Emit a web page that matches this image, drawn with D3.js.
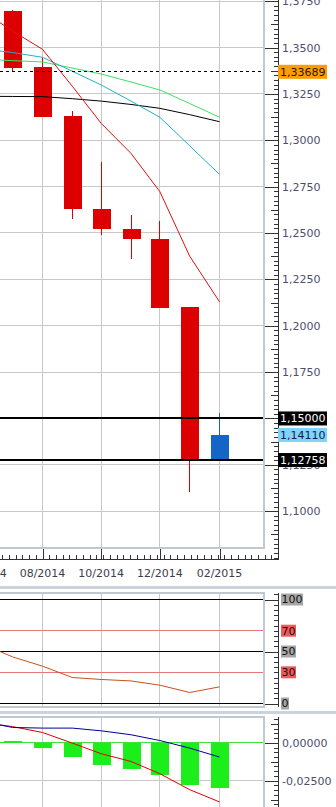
<!DOCTYPE html>
<html>
<head>
<meta charset="utf-8">
<title>EUR/USD monthly</title>
<script src="https://cdn.jsdelivr.net/npm/d3@7"></script>
<style>
  html, body { margin: 0; padding: 0; background: #fff; overflow: hidden; }
  svg { display: block; font-family: "DejaVu Sans", Verdana, sans-serif; font-size: 11px; }
</style>
</head>
<body>
<svg id="chart" width="336" height="807"></svg>
<script>
// monthly candles 07/2014 .. 02/2015
const candleMonths = ['2014-07', '2014-08', '2014-09', '2014-10', '2014-11', '2014-12', '2015-01', '2015-02'];
const opens  = [1.3697, 1.3393, 1.3131, 1.2627, 1.2519, 1.2465, 1.2099, 1.1284];
const highs  = [1.3700, 1.3444, 1.3158, 1.2884, 1.2597, 1.2567, 1.2099, 1.1532];
const lows   = [1.3372, 1.3127, 1.2577, 1.2490, 1.2361, 1.2097, 1.1101, 1.1276];
const closes = [1.3391, 1.3127, 1.2627, 1.2519, 1.2465, 1.2097, 1.1284, 1.1411];

// indicator lines start one month earlier, off the left edge
const lineMonths = ['2014-06', '2014-07', '2014-08', '2014-09', '2014-10', '2014-11', '2014-12', '2015-01', '2015-02'];
const maRed   = [1.3690, 1.3589, 1.3490, 1.3291, 1.3091, 1.2929, 1.2723, 1.2375, 1.2129];
const maCyan  = [1.3491, 1.3473, 1.3447, 1.3372, 1.3298, 1.3211, 1.3124, 1.2970, 1.2816];
const maGreen = [1.3437, 1.3429, 1.3422, 1.3389, 1.3357, 1.3314, 1.3271, 1.3198, 1.3124];
const maBlack = [1.3237, 1.3236, 1.3235, 1.3224, 1.3211, 1.3193, 1.3172, 1.3138, 1.3100];
const rsiValues = [56.5, 44.8, 35.9, 25.0, 23.1, 21.7, 17.6, 10.6, 16.0];
const macdLine   = [0.0132, 0.0107, 0.0068, -0.0002, -0.0072, -0.0123, -0.0204, -0.0309, -0.0390];
const signalLine = [0.0139, 0.0101, 0.0097, 0.0097, 0.0079, 0.0053, 0.0015, -0.0035, -0.0094];
const macdHist = [0.0012, -0.0032, -0.0092, -0.0144, -0.0171, -0.0210, -0.0276, -0.0296]; // per candle month

const xTickMonths = ['2014-06', '2014-08', '2014-10', '2014-12', '2015-02'];
const priceTicks = [1.1000, 1.1250, 1.1500, 1.1750, 1.2000, 1.2250, 1.2500, 1.2750, 1.3000, 1.3250, 1.3500, 1.3750];
const solidLevels = [1.15000, 1.12758];
const dashedLevel = 1.33689;
const priceTags = [1.33689, 1.15000, 1.14110, 1.12758];
const rsiLevels = [100, 70, 50, 30, 0];
const macdTicks = [0, -0.025];

const tagStyle = [
  {bg: '#ff9c00', fg: '#2a1a00'},
  {bg: '#000000', fg: '#ffffff'},
  {bg: '#80d4fb', fg: '#10204a'},
  {bg: '#000000', fg: '#ffffff'}
];

const svg = d3.select('#chart');
const parseMonth = d3.timeParse('%Y-%m');
const loc = d3.formatLocale({decimal: ',', thousands: '.', grouping: [3], currency: ['', ''], minus: '-'});
const fmt4 = loc.format('.4f');
const fmt5 = loc.format('.5f');

const frameRight = 264, axisX = 278.5;
const mainBottom = 548, xAxisY = 559.5;
const rsiTop = 593, rsiBottom = 707;
const macdTop = 717, macdBottom = 807;
const gridColor = '#c8c8c8', frameColor = '#c2c8d0', tickColor = '#333';

const x = d3.scaleTime()
  .domain([parseMonth('2014-08'), parseMonth('2015-02')])
  .range([42.5, 219.5]);
const yMain = d3.scaleLinear().domain([1.10, 1.35]).range([511.2, 47.5]);
const yRsi = d3.scaleLinear().domain([0, 100]).range([703.5, 599.5]);
const yMacd = d3.scaleLinear().domain([-0.025, 0]).range([780.7, 742.8]);

const snap = v => Math.floor(v) + 0.5;
const lineDates = lineMonths.map(parseMonth);
const candleDates = candleMonths.map(parseMonth);
const gridDates = xTickMonths.map(parseMonth);

const defs = svg.append('defs');
function clip(id, y0, y1) {
  defs.append('clipPath').attr('id', id)
    .append('rect').attr('x', 0).attr('y', y0).attr('width', frameRight - 1).attr('height', y1 - y0);
  return `url(#${id})`;
}

function vGrid(g, y0, y1) {
  g.append('g')
    .attr('stroke', gridColor)
    .attr('shape-rendering', 'crispEdges')
    .selectAll('line')
    .data(gridDates)
    .join('line')
    .attr('x1', d => snap(x(d)))
    .attr('x2', d => snap(x(d)))
    .attr('y1', y0)
    .attr('y2', y1);
}

function drawLine(g, values, yScale, color) {
  g.append('path')
    .datum(values)
    .attr('fill', 'none')
    .attr('stroke', color)
    .attr('stroke-width', 1)
    .attr('d', d3.line().x((d, i) => x(lineDates[i])).y(d => yScale(d)));
}

// ---------- main price panel ----------
const main = svg.append('g').attr('clip-path', clip('clipMain', -10, mainBottom - 1));
vGrid(main, -10, mainBottom);
main.append('g')
  .attr('stroke', gridColor)
  .attr('shape-rendering', 'crispEdges')
  .selectAll('line')
  .data(priceTicks)
  .join('line')
  .attr('x1', 0)
  .attr('x2', frameRight)
  .attr('y1', d => snap(yMain(d)))
  .attr('y2', d => snap(yMain(d)));

const candles = candleDates.map((d, i) => ({date: d, o: opens[i], h: highs[i], l: lows[i], c: closes[i]}));
const cg = main.append('g').selectAll('g').data(candles).join('g')
  .attr('fill', d => d.c >= d.o ? '#1565c8' : '#dc0000')
  .attr('stroke', d => d.c >= d.o ? '#1565c8' : '#dc0000');
cg.append('line')
  .attr('shape-rendering', 'crispEdges')
  .attr('x1', d => snap(x(d.date)))
  .attr('x2', d => snap(x(d.date)))
  .attr('y1', d => yMain(d.h))
  .attr('y2', d => yMain(d.l));
cg.append('rect')
  .attr('stroke', 'none')
  .attr('shape-rendering', 'crispEdges')
  .attr('x', d => Math.floor(x(d.date)) - 8)
  .attr('width', 18)
  .attr('y', d => yMain(Math.max(d.o, d.c)))
  .attr('height', d => Math.max(1, Math.abs(yMain(d.o) - yMain(d.c))));

drawLine(main, maBlack, yMain, '#000000');
drawLine(main, maGreen, yMain, '#3ce064');
drawLine(main, maCyan, yMain, '#1fb2c8');
drawLine(main, maRed, yMain, '#e01010');

main.append('line')
  .attr('x1', 0).attr('x2', frameRight)
  .attr('y1', snap(yMain(dashedLevel))).attr('y2', snap(yMain(dashedLevel)))
  .attr('stroke', '#000').attr('stroke-dasharray', '3,3')
  .attr('shape-rendering', 'crispEdges');
main.append('g').selectAll('line').data(solidLevels).join('line')
  .attr('x1', 0).attr('x2', frameRight)
  .attr('y1', d => Math.round(yMain(d))).attr('y2', d => Math.round(yMain(d)))
  .attr('stroke', '#000').attr('stroke-width', 2)
  .attr('shape-rendering', 'crispEdges');

// ---------- RSI panel ----------
const rsiG = svg.append('g').attr('clip-path', clip('clipRsi', rsiTop + 1, rsiBottom - 1));
vGrid(rsiG, rsiTop, rsiBottom);
rsiG.append('g').selectAll('line').data(rsiLevels).join('line')
  .attr('x1', 0).attr('x2', frameRight)
  .attr('y1', d => snap(yRsi(d))).attr('y2', d => snap(yRsi(d)))
  .attr('stroke', d => (d === 70 || d === 30) ? '#e87878' : '#000')
  .attr('shape-rendering', 'crispEdges');
drawLine(rsiG, rsiValues, yRsi, '#c8501c');

// ---------- MACD panel ----------
const macdG = svg.append('g').attr('clip-path', clip('clipMacd', macdTop + 1, macdBottom + 5));
vGrid(macdG, macdTop, macdBottom);
macdG.append('line')
  .attr('x1', 0).attr('x2', frameRight)
  .attr('y1', snap(yMacd(-0.025))).attr('y2', snap(yMacd(-0.025)))
  .attr('stroke', gridColor).attr('shape-rendering', 'crispEdges');
macdG.append('line')
  .attr('x1', 0).attr('x2', frameRight)
  .attr('y1', snap(yMacd(0))).attr('y2', snap(yMacd(0)))
  .attr('stroke', '#3ee03e').attr('shape-rendering', 'crispEdges');
macdG.append('g').selectAll('rect').data(macdHist).join('rect')
  .attr('fill', '#1cee1c')
  .attr('shape-rendering', 'crispEdges')
  .attr('x', (d, i) => Math.floor(x(candleDates[i])) - 8)
  .attr('width', 18)
  .attr('y', d => yMacd(Math.max(0, d)))
  .attr('height', d => Math.abs(yMacd(d) - yMacd(0)));
drawLine(macdG, macdLine, yMacd, '#e00000');
drawLine(macdG, signalLine, yMacd, '#00009a');

// ---------- frames and separators ----------
const frame = svg.append('g').attr('stroke', frameColor).attr('stroke-width', 2).attr('shape-rendering', 'crispEdges');
frame.append('line').attr('x1', frameRight).attr('x2', frameRight).attr('y1', -2).attr('y2', mainBottom + 1);
frame.append('line').attr('x1', 0).attr('x2', frameRight + 1).attr('y1', mainBottom).attr('y2', mainBottom);
frame.append('line').attr('x1', 0).attr('x2', frameRight + 1).attr('y1', rsiTop).attr('y2', rsiTop);
frame.append('line').attr('x1', 0).attr('x2', frameRight + 1).attr('y1', rsiBottom).attr('y2', rsiBottom);
frame.append('line').attr('x1', frameRight).attr('x2', frameRight).attr('y1', rsiTop).attr('y2', rsiBottom);
frame.append('line').attr('x1', 0).attr('x2', frameRight + 1).attr('y1', macdTop).attr('y2', macdTop);
frame.append('line').attr('x1', frameRight).attr('x2', frameRight).attr('y1', macdTop).attr('y2', macdBottom + 2);

svg.append('rect').attr('x', 0).attr('y', 586).attr('width', 336).attr('height', 3).attr('fill', '#cbd3de');
svg.append('rect').attr('x', 0).attr('y', 711).attr('width', 336).attr('height', 3).attr('fill', '#cbd3de');

// ---------- right axes ----------
function rightAxis(scale, y0, y1, minorStep, midVals, majorVals, fmt) {
  const inside = v => scale(v) >= y0 && scale(v) <= y1;
  const [a, b] = d3.extent([scale.invert(y0), scale.invert(y1)]);
  const minors = d3.range(Math.ceil(a / minorStep), Math.floor(b / minorStep) + 1).map(k => k * minorStep).filter(inside);
  const g = svg.append('g')
    .attr('transform', `translate(${axisX},0)`)
    .style('color', tickColor)
    .attr('shape-rendering', 'crispEdges');
  g.append('g').call(d3.axisRight(scale).tickValues(minors).tickSize(-5).tickFormat(''));
  g.append('g').call(d3.axisRight(scale).tickValues(midVals.filter(inside)).tickSize(-8).tickFormat(''));
  const maj = g.append('g').call(d3.axisRight(scale).tickValues(majorVals.filter(inside))
    .tickSize(-(axisX - frameRight - 1)).tickPadding(3.5).tickFormat(fmt || ''));
  g.selectAll('.domain').remove();
  g.selectAll('g').attr('font-size', null).attr('font-family', null);
  g.selectAll('text').attr('fill', '#4e4e6c');
  g.append('line').attr('x1', 0).attr('x2', 0).attr('y1', y0).attr('y2', y1).attr('stroke', tickColor);
  return maj;
}

rightAxis(yMain, -2, xAxisY, 0.0025, d3.range(1.0875, 1.39, 0.025), priceTicks, fmt4);
rightAxis(yRsi, rsiTop, rsiBottom, 5, [], [100, 50, 0], null);
rightAxis(yMacd, macdTop, macdBottom + 2, 0.025 / 8, [0.0125, -0.0125, -0.0375], macdTicks, fmt5);

// ---------- time axis ----------
const xg = svg.append('g')
  .attr('transform', `translate(0,${xAxisY})`)
  .style('color', tickColor)
  .attr('shape-rendering', 'crispEdges');
const weeks = d3.timeFriday.range(x.invert(0), x.invert(axisX));
xg.append('g').call(d3.axisBottom(x).tickValues(weeks).tickSize(-5).tickFormat('').offset(0));
xg.append('g').call(d3.axisBottom(x).tickValues(gridDates).tickSize(-11).tickPadding(10)
  .tickFormat(d3.timeFormat('%m/%Y')).offset(0));
xg.selectAll('.domain').remove();
xg.selectAll('g').attr('font-size', null).attr('font-family', null);
xg.selectAll('.tick line').attr('transform', 'translate(0.5,0)');
xg.selectAll('text').attr('fill', '#3c3c4c');
xg.append('line').attr('x1', 0).attr('x2', axisX + 0.5).attr('y1', 0).attr('y2', 0).attr('stroke', tickColor);

// ---------- price tags ----------
const tags = svg.append('g').selectAll('g').data(priceTags).join('g')
  .attr('transform', d => `translate(278,${yMain(d)})`);
tags.append('rect')
  .attr('x', 0).attr('y', -7).attr('width', 49).attr('height', 14)
  .attr('fill', (d, i) => tagStyle[i].bg);
tags.append('text')
  .attr('x', 2).attr('dy', '0.36em')
  .attr('fill', (d, i) => tagStyle[i].fg)
  .text(d => fmt5(d));

// ---------- RSI level tags ----------
const rsiTags = svg.append('g').selectAll('g').data(rsiLevels).join('g')
  .attr('transform', d => `translate(281,${yRsi(d)})`);
rsiTags.append('rect')
  .attr('x', 0).attr('y', -6).attr('height', 12)
  .attr('width', d => String(d).length * 7 + 1)
  .attr('fill', d => (d === 70 || d === 30) ? '#f05a5a' : '#a6a6a6');
rsiTags.append('text')
  .attr('x', 0.5).attr('dy', '0.36em')
  .attr('fill', '#111')
  .text(d => d);
</script>
</body>
</html>
